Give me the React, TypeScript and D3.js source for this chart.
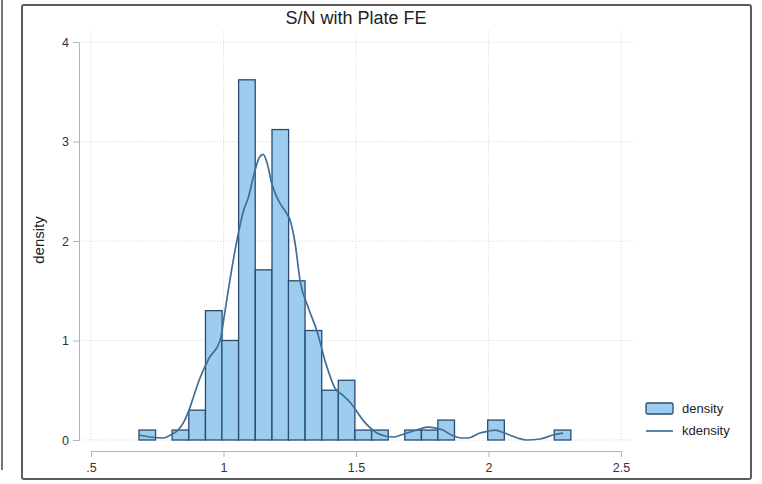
import * as d3 from 'd3';
import React, { useRef, useEffect } from 'react';

const W = 762;
const H = 484;

// histogram bins (lower edge) and density heights
const binWidth = 0.0627;
const binLo = [0.681, 0.806, 0.869, 0.932, 0.994, 1.057, 1.120, 1.183, 1.245, 1.308,
    1.371, 1.433, 1.496, 1.559, 1.684, 1.747, 1.809, 1.997, 2.248];
const density = [0.1, 0.1, 0.3, 1.3, 1.0, 3.62, 1.71, 3.12, 1.6, 1.1,
    0.5, 0.6, 0.1, 0.1, 0.1, 0.1, 0.2, 0.2, 0.1];

// kernel density curve, read point by point
const kdX = [0.681, 0.725, 0.772, 0.800, 0.828, 0.850, 0.870, 0.890, 0.911, 0.945,
    0.987, 1.006, 1.025, 1.051, 1.075, 1.093, 1.119, 1.135, 1.150, 1.165,
    1.182, 1.200, 1.213, 1.238, 1.251, 1.270, 1.289, 1.320, 1.352, 1.385,
    1.421, 1.450, 1.477, 1.500, 1.526, 1.555, 1.579, 1.610, 1.640, 1.670,
    1.704, 1.740, 1.772, 1.800, 1.828, 1.860, 1.900, 1.923, 1.968, 2.000,
    2.025, 2.050, 2.080, 2.110, 2.145, 2.194, 2.243, 2.281];
const kdY = [0.05, 0.03, 0.02, 0.05, 0.10, 0.18, 0.30, 0.46, 0.62, 0.82,
    1.00, 1.30, 1.62, 2.01, 2.30, 2.43, 2.71, 2.84, 2.87, 2.78,
    2.58, 2.45, 2.38, 2.28, 2.21, 1.98, 1.60, 1.33, 1.10, 0.78,
    0.52, 0.45, 0.38, 0.30, 0.20, 0.12, 0.07, 0.04, 0.03, 0.05,
    0.08, 0.11, 0.13, 0.12, 0.10, 0.05, 0.02, 0.02, 0.07, 0.09,
    0.10, 0.08, 0.05, 0.02, 0.00, 0.01, 0.05, 0.07];

const xTicks = [0.5, 1, 1.5, 2, 2.5];
const xTickLabels = ['.5', '1', '1.5', '2', '2.5'];
const yTicks = [0, 1, 2, 3, 4];
const yTickLabels = ['0', '1', '2', '3', '4'];

const title = 'S/N with Plate FE';
const yTitle = 'density';
const legendLabels = ['density', 'kdensity'];

const barFill = '#9dcdee';
const barStroke = '#2b4a72';
const lineColor = '#3f6e97';
const font = '"Liberation Sans", Arial, Helvetica, sans-serif';

function App() {
    const ref = useRef<SVGSVGElement>(null);

    useEffect(() => {
        const svg = d3.select(ref.current);
        svg.selectAll('*').remove();

        const x = d3.scaleLinear().domain([0.5, 2.5]).range([91, 621]);
        const y = d3.scaleLinear().domain([0, 4]).range([440, 42]);

        // far-left edge of neighbouring panel
        svg.append('line')
            .attr('x1', 2).attr('x2', 2).attr('y1', 0).attr('y2', 470)
            .attr('stroke', '#777').attr('stroke-width', 2);

        // outer frame
        svg.append('rect')
            .attr('x', 22).attr('y', 5).attr('width', 729).attr('height', 474)
            .attr('rx', 2)
            .attr('fill', 'white').attr('stroke', '#5c5c5c').attr('stroke-width', 2);

        // grid
        const grid = svg.append('g')
            .attr('stroke', '#e2e2e2').attr('stroke-width', 1)
            .attr('stroke-dasharray', '1.5,1.5');
        grid.selectAll('line.h').data(yTicks).enter().append('line')
            .attr('x1', 82).attr('x2', 634)
            .attr('y1', d => y(d)).attr('y2', d => y(d));
        grid.selectAll('line.v').data(xTicks).enter().append('line')
            .attr('x1', d => x(d)).attr('x2', d => x(d))
            .attr('y1', 31).attr('y2', 445);

        // bars
        svg.append('g').selectAll('rect')
            .data(binLo)
            .enter()
            .append('rect')
            .attr('x', d => x(d))
            .attr('y', (d, i) => y(density[i]))
            .attr('width', d => x(d + binWidth) - x(d))
            .attr('height', (d, i) => y(0) - y(density[i]))
            .attr('fill', barFill)
            .attr('stroke', barStroke)
            .attr('stroke-width', 1.3);

        // kdensity line
        const pts: [number, number][] = kdX.map((d, i) => [d, kdY[i]]);
        const line = d3.line<[number, number]>()
            .x(d => x(d[0]))
            .y(d => y(d[1]))
            .curve(d3.curveMonotoneX);
        svg.append('path')
            .attr('d', line(pts))
            .attr('fill', 'none')
            .attr('stroke', lineColor)
            .attr('stroke-width', 1.7);

        // y axis
        const yAxis = svg.append('g')
            .attr('transform', 'translate(79,0)')
            .call(d3.axisLeft(y).tickValues(yTicks).tickSize(6).tickPadding(4)
                .tickFormat((d, i) => yTickLabels[i]));
        // x axis
        const xAxis = svg.append('g')
            .attr('transform', 'translate(0,451)')
            .call(d3.axisBottom(x).tickValues(xTicks).tickSize(6).tickPadding(6)
                .tickFormat((d, i) => xTickLabels[i]));
        [yAxis, xAxis].forEach(a => {
            a.select('.domain').attr('stroke', '#b5b5b5');
            a.selectAll('.tick line').attr('stroke', '#b5b5b5');
            a.selectAll('.tick text')
                .attr('fill', '#333')
                .style('font-family', font)
                .style('font-size', '12.5px');
        });

        // title
        svg.append('text')
            .attr('x', 356).attr('y', 24)
            .attr('text-anchor', 'middle')
            .attr('fill', '#222')
            .style('font-family', font)
            .style('font-size', '18px')
            .text(title);

        // y title
        svg.append('text')
            .attr('transform', 'translate(44,240) rotate(-90)')
            .attr('text-anchor', 'middle')
            .attr('fill', '#222')
            .style('font-family', font)
            .style('font-size', '15px')
            .text(yTitle);

        // legend
        const lg = svg.append('g');
        lg.append('rect')
            .attr('x', 646).attr('y', 403).attr('width', 27).attr('height', 11)
            .attr('rx', 1.5)
            .attr('fill', barFill).attr('stroke', barStroke).attr('stroke-width', 1.3);
        lg.append('line')
            .attr('x1', 646).attr('x2', 673).attr('y1', 431).attr('y2', 431)
            .attr('stroke', lineColor).attr('stroke-width', 1.7);
        lg.selectAll('text').data(legendLabels).enter().append('text')
            .attr('x', 682)
            .attr('y', (d, i) => 413 + i * 22)
            .attr('fill', '#222')
            .style('font-family', font)
            .style('font-size', '13px')
            .text(d => d);
    }, []);

    return (
        <div style={{ position: 'absolute', left: 0, top: 0 }}>
            <svg ref={ref} width={W} height={H} style={{ display: 'block' }}></svg>
        </div>
    );
}

export default App;
